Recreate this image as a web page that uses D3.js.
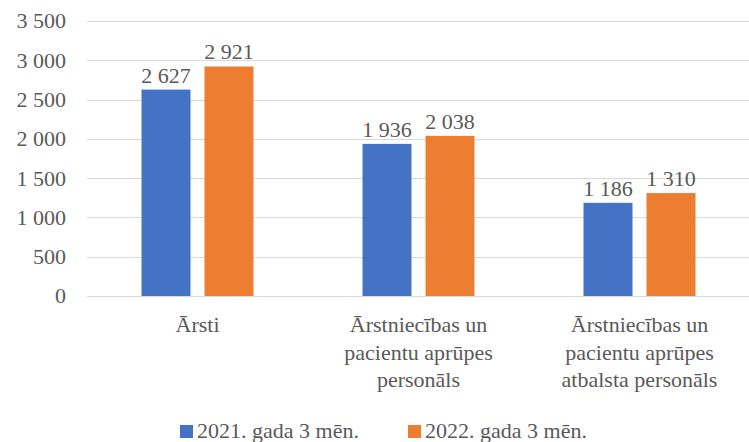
<!DOCTYPE html>
<html>
<head>
<meta charset="utf-8">
<script src="https://cdn.jsdelivr.net/npm/d3@7"></script>
</head>
<body style="margin:0">
<svg id="drawing_region" width="749" height="442"></svg>
<script>
// chart values
const categories = [
    ["Ārsti"],
    ["Ārstniecības un", "pacientu aprūpes", "personāls"],
    ["Ārstniecības un", "pacientu aprūpes", "atbalsta personāls"]
];
const series = ["2021. gada 3 mēn.", "2022. gada 3 mēn."];
const values2021 = [2627, 1936, 1186];
const values2022 = [2921, 2038, 1310];
const yticks = [0, 500, 1000, 1500, 2000, 2500, 3000, 3500];
const colors = ["#4472C4", "#ED7D31"];

const plot = { left: 87, right: 750, top: 21, bottom: 296 };
const TXT = '#595959';

const fmt = v => d3.format(",")(v).replace(/,/g, " ");

const svg = d3.select('#drawing_region');

// every text gets the serif font the same way as in the font test
function serif(sel) {
    return sel.style('font-family', 'Liberation Serif').style('font-size', '22px').attr('fill', TXT);
}

const keys = categories.map((c, i) => i);

const xscale = d3.scaleBand()
    .domain(keys)
    .range([plot.left, plot.right]);

const groupW = 112;
const x1 = d3.scaleBand()
    .domain([0, 1])
    .range([0, groupW])
    .paddingInner(14 / 63);

const yscale = d3.scaleLinear()
    .domain([0, 3500])
    .range([plot.bottom, plot.top]);

// gridlines
svg.append('g')
    .selectAll('line')
    .data(yticks)
    .join('line')
    .attr('x1', plot.left)
    .attr('x2', 749)
    .attr('y1', d => Math.round(yscale(d)) + 0.5)
    .attr('y2', d => Math.round(yscale(d)) + 0.5)
    .attr('stroke', '#d9d9d9')
    .attr('stroke-width', 1.2);

// y axis labels (tick values through the scale)
svg.append('g')
    .selectAll('text')
    .data(yticks)
    .join('text')
    .attr('x', 66)
    .attr('y', d => yscale(d))
    .attr('dy', '0.34em')
    .attr('text-anchor', 'end')
    .call(serif)
    .text(fmt);

const data = [values2021, values2022];

const groups = svg.append('g')
    .selectAll('g')
    .data(keys)
    .join('g')
    .attr('transform', d => `translate(${xscale(d) + (xscale.bandwidth() - groupW) / 2}, 0)`);

groups.selectAll('rect')
    .data(i => data.map((s, si) => ({ si, v: s[i] })))
    .join('rect')
    .attr('x', d => x1(d.si))
    .attr('width', x1.bandwidth())
    .attr('y', d => yscale(d.v))
    .attr('height', d => yscale(0) - yscale(d.v))
    .attr('fill', d => colors[d.si]);

groups.selectAll('text.val')
    .data(i => data.map((s, si) => ({ si, v: s[i] })))
    .join('text')
    .attr('class', 'val')
    .attr('x', d => x1(d.si) + x1.bandwidth() / 2)
    .attr('y', d => yscale(d.v) - 7)
    .attr('text-anchor', 'middle')
    .call(serif)
    .text(d => fmt(d.v));

// category labels, one text per line
const cat = svg.append('g')
    .selectAll('g')
    .data(keys)
    .join('g');

cat.selectAll('text')
    .data(d => categories[d].map((line, li) => ({ d, line, li })))
    .join('text')
    .attr('x', o => xscale(o.d) + xscale.bandwidth() / 2)
    .attr('y', o => 332 + o.li * 27.5)
    .attr('text-anchor', 'middle')
    .call(serif)
    .text(o => o.line);

// legend
const legendX = [180, 408];
const legend = svg.append('g')
    .selectAll('g')
    .data(series)
    .join('g')
    .attr('transform', (d, i) => `translate(${legendX[i]}, 425)`);

legend.append('rect')
    .attr('width', 13)
    .attr('height', 13)
    .attr('fill', (d, i) => colors[i]);

legend.append('text')
    .attr('x', 17)
    .attr('y', 13)
    .call(serif)
    .text(d => d);
</script>
</body>
</html>
